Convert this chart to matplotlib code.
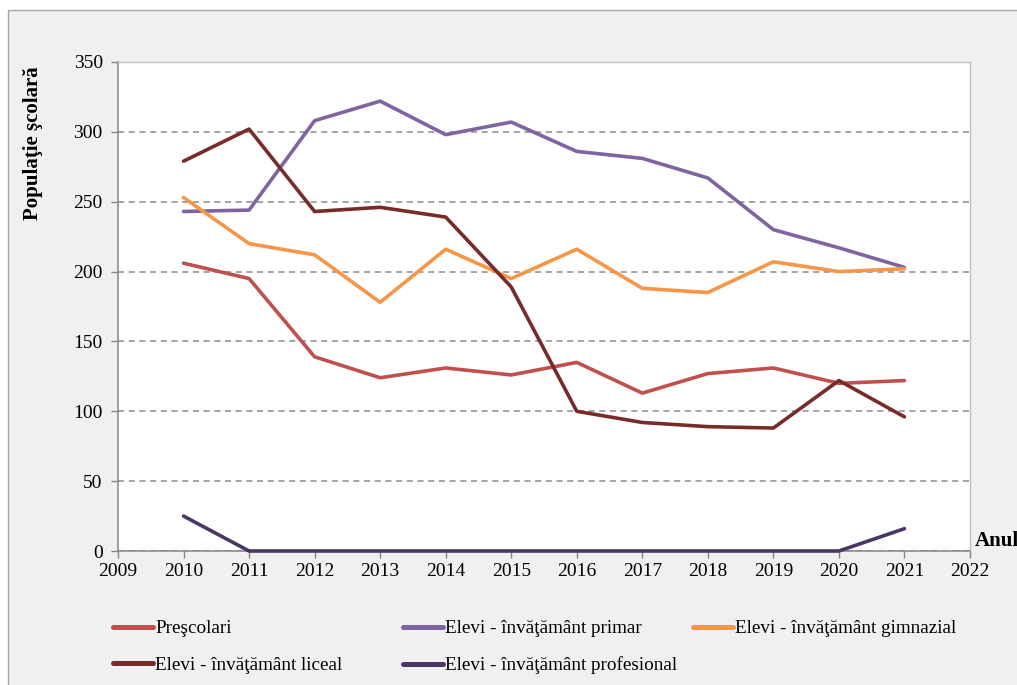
import matplotlib
matplotlib.use("Agg")
import matplotlib.pyplot as plt
from matplotlib.patches import Rectangle
from matplotlib.lines import Line2D

years = [2010, 2011, 2012, 2013, 2014, 2015, 2016, 2017, 2018, 2019, 2020, 2021]
prescolari = [206, 195, 139, 124, 131, 126, 135, 113, 127, 131, 120, 122]
primar = [243, 244, 308, 322, 298, 307, 286, 281, 267, 230, 217, 203]
gimnazial = [253, 220, 212, 178, 216, 195, 216, 188, 185, 207, 200, 202]
liceal = [279, 302, 243, 246, 239, 189, 100, 92, 89, 88, 122, 96]
profesional = [25, 0, 0, 0, 0, 0, 0, 0, 0, 0, 0, 16]

labels = ["Preşcolari", "Elevi - învăţământ primar", "Elevi - învăţământ gimnazial",
          "Elevi - învăţământ liceal", "Elevi - învăţământ profesional"]
colors = ["#C0504D", "#8064A2", "#F79646", "#772C2A", "#4A3766"]
xticks = list(range(2009, 2023))
yticks = [0, 50, 100, 150, 200, 250, 300, 350]

plt.rcParams['font.family'] = ['Liberation Serif', 'DejaVu Serif']

W, H = 1017, 685
fig = plt.figure(figsize=(W / 100, H / 100), dpi=100, facecolor='white')
bg = Rectangle((8 / W, -0.1), 1.2, 1 - 10 / H + 0.1, transform=fig.transFigure,
               facecolor='#f0f0f0', edgecolor='#a6a6a6', linewidth=1.0, zorder=-10)
fig.patches.append(bg)

ax = fig.add_axes([118 / W, 1 - 551 / H, (970 - 118) / W, (551 - 62) / H], zorder=1)
ax.set_facecolor('white')

series = [prescolari, primar, gimnazial, liceal, profesional]
handles = []
for vals, c, lab in zip(series, colors, labels):
    ax.plot(years, vals, color=c, linewidth=2.6, solid_capstyle='round', zorder=3, clip_on=False)
    handles.append(Line2D([], [], color=c, linewidth=3.6, solid_capstyle='round'))

ax.set_xlim(2009, 2022)
ax.set_ylim(0, 350)
ax.set_xticks(xticks)
ax.set_yticks(yticks)
ax.tick_params(axis='both', labelsize=14, colors='#868686', length=5, width=1)
ax.tick_params(axis='x', pad=4)
ax.tick_params(axis='y', pad=6)
for lab in ax.get_xticklabels() + ax.get_yticklabels():
    lab.set_color('black')

ax.yaxis.grid(True, linestyle=(0, (4, 3)), color='#8c8c8c', linewidth=1.1)
ax.set_axisbelow(True)

for s in ['left', 'bottom']:
    ax.spines[s].set_color('#868686')
    ax.spines[s].set_linewidth(1.1)
for s in ['top', 'right']:
    ax.spines[s].set_color('#bfbfbf')
    ax.spines[s].set_linewidth(1.0)

fig.text(33 / W, 1 - 143 / H, "Populaţie şcolară", rotation=90, ha='center', va='center',
         fontsize=15, fontweight='bold')
fig.text(975 / W, 1 - 541 / H, "Anul", ha='left', va='center', fontsize=15, fontweight='bold')

common = dict(frameon=False, fontsize=13.8, handlelength=2.1, handletextpad=0.1,
              labelspacing=1.0, borderpad=0, borderaxespad=0)
top = 1 - 620 / H
fig.legend(handles=[handles[0], handles[3]], labels=[labels[0], labels[3]], loc='upper left',
           bbox_to_anchor=(113 / W, top), **common)
fig.legend(handles=[handles[1], handles[4]], labels=[labels[1], labels[4]], loc='upper left',
           bbox_to_anchor=(403 / W, top), **common)
fig.legend(handles=[handles[2]], labels=[labels[2]], loc='upper left',
           bbox_to_anchor=(693 / W, top), **common)

fig.savefig("out.png", dpi=100, facecolor=fig.get_facecolor())
